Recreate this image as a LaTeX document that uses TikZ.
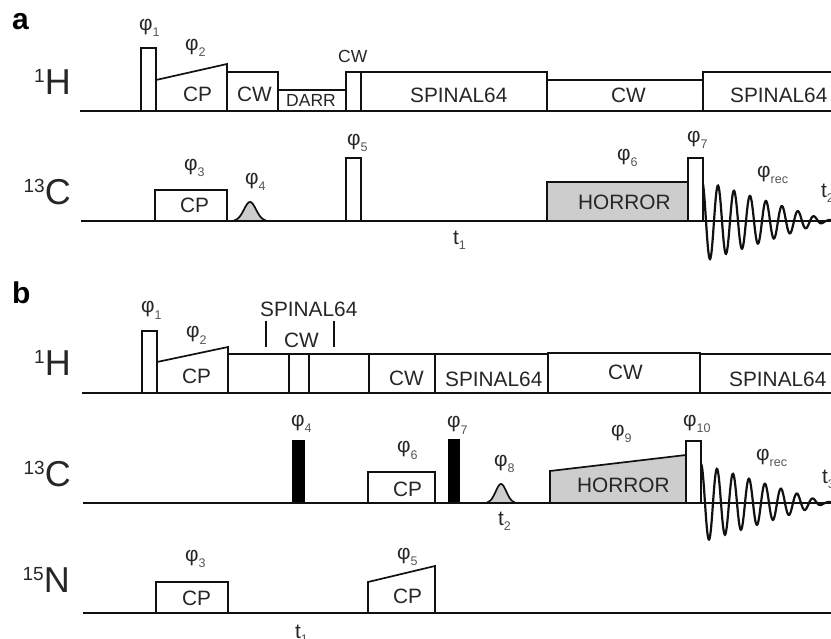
\documentclass[tikz,border=0pt]{standalone}
\usepackage{fontspec}
\setmainfont{Liberation Sans}
\usepackage{xcolor}
\usetikzlibrary{arrows.meta,positioning}
\definecolor{ink}{HTML}{111111}
\definecolor{txt}{HTML}{262626}
\definecolor{sub}{HTML}{555555}
\definecolor{shade}{HTML}{CDCDCD}
\newcommand{\fsz}[1]{\fontsize{#1}{#1}\selectfont}
\newcommand{\ph}[1]{φ\raisebox{-6pt}{\fsz{12.5}\textcolor{sub}{#1}}}
\newcommand{\tm}[1]{t\raisebox{-5pt}{\fsz{12.5}\textcolor{sub}{#1}}}
\newcommand{\nuc}[2]{\raisebox{12pt}{\fsz{19}#1}{\fsz{36}#2}}
\tikzset{
  lbl/.style={anchor=base west, inner sep=0pt, text=txt, font=\fsz{20.8}},
  small/.style={lbl, font=\fsz{17.5}},
  nucl/.style={anchor=base east, inner sep=0pt, text=txt},
  panel/.style={anchor=base west, inner sep=0pt, text=black, font=\fsz{30}\bfseries},
  rail/.style={draw=ink, line width=1.9pt},
  pulse/.style={draw=ink, line width=1.7pt, fill=white},
  grey/.style={pulse, fill=shade},
  hard/.style={draw=black, fill=black, line width=0.4pt},
  fid/.style={draw=ink, line width=2.2pt}
}
\begin{document}
\begin{tikzpicture}[x=1pt, y=-1pt]
  \useasboundingbox (0,0) rectangle (831,639);
  \clip (0,0) rectangle (831,639);
  % panel a
  \foreach \xa/\xb/\yt in {141/156/48, 227/278/72, 278/346/90, 346/361/72, 361/547/72, 547/703/80, 703/835/72}
    \draw[pulse] (\xa,111) rectangle (\xb,\yt);
  \draw[pulse] (156,111) -- (156,80) -- (227,64) -- (227,111);
  \draw[rail] (80,111) -- (831,111);
  \foreach \xa/\xb/\yt in {155/227/190, 346/361/158, 688/703/158}
    \draw[pulse] (\xa,221) rectangle (\xb,\yt);
  \draw[grey] (547,221) rectangle (688,182);
  \draw[grey] plot[domain=-16:16, samples=40] ({250+\x},{221-19*exp(-1*(\x/8.5)*(\x/8.5))});
  \draw[rail] (81,221) -- (831,221);
  \draw[fid] plot[domain=703:833, samples=260, smooth] (\x,{221-max(38-0.32*(\x-710),1)*sin(22.5*(\x-714))});
  % panel b
  \foreach \xa/\xb/\yt in {142/157/331, 228/289/354, 289/309/354, 309/369/354, 369/435/354, 435/548/354, 548/700/353, 700/835/354}
    \draw[pulse] (\xa,393) rectangle (\xb,\yt);
  \draw[pulse] (157,393) -- (157,362) -- (228,347) -- (228,393);
  \draw[rail] (82,393) -- (831,393);
  \draw[rail] (266,321) -- (266,347);
  \draw[rail] (334,321) -- (334,347);
  \draw[pulse] (368,503) rectangle (435,472);
  \draw[hard] (292,503) rectangle (304,440);
  \draw[hard] (448,503) rectangle (459,439);
  \draw[grey] plot[domain=-14:14, samples=40] ({501+\x},{503-19*exp(-1*(\x/7.5)*(\x/7.5))});
  \draw[grey] (550,503) -- (550,471) -- (686,455) -- (686,503) -- cycle;
  \draw[pulse] (686,503) rectangle (701,441);
  \draw[rail] (83,503) -- (831,503);
  \draw[fid] plot[domain=701:833, samples=260, smooth] (\x,{503-max(37-0.31*(\x-708),1)*sin(22.5*(\x-713))});
  \draw[pulse] (156,613) rectangle (228,582);
  \draw[pulse] (368,613) -- (368,582) -- (435,566) -- (435,613);
  \draw[rail] (83,613) -- (831,613);
  % labels
  \node[panel] (pa) at (12,30) {a};
  \node[panel] (pb) at (12,304) {b};
  \foreach \nm/\x/\y/\nc/\at in {ah/71/95/1/H, ac/71/205/13/C, bh/71/376/1/H, bc/71/486/13/C, bn/70/592/15/N}
    \node[nucl] (\nm) at (\x,\y) {\nuc{\nc}{\at}};
  \foreach \nm/\x/\y/\t in {%
    acp/183/102/CP, acw/237/102/CW, asa/410/103/SPINAL64, acw2/611/103/CW, asb/730/103/SPINAL64,
    acc/180/213/CP, ahr/578/210/HORROR, bcp/182/384/CP, bsp/260/317/SPINAL64, bcw/284/348/CW,
    bcw2/389/386/CW, bsa/445/387/SPINAL64, bcw3/608/380/CW, bsb/729/387/SPINAL64,
    bcc/393/496/CP, bhr/577/492/HORROR, bnc/182/605/CP, bnd/393/603/CP}
    \node[lbl] (\nm) at (\x,\y) {\t};
  \node[small] (adr) at (286,107) {DARR};
  \node[small] (acw3) at (338,63) {CW};
  \foreach \nm/\x/\y/\i in {%
    fa1/139/31/1, fa2/185/51/2, fa3/184/171/3, fa4/245/185/4, fa5/347/146/5,
    fa6/617/161/6, fa7/687/143/7, far/757/178/rec,
    fb1/141/313/1, fb2/186/338/2, fb3/185/561/3, fb4/291/426/4, fb5/397/559/5,
    fb6/397/453/6, fb7/447/428/7, fb8/494/466/8, fb9/611/436/9, fb10/683/426/10, fbr/756/460/rec}
    \node[lbl] (\nm) at (\x,\y) {\ph{\i}};
  \foreach \nm/\x/\y/\i in {ta1/453/245/1, ta2/821/198/2, tb1/295/638/1, tb2/498/525/2, tb3/822/483/3}
    \node[lbl] (\nm) at (\x,\y) {\tm{\i}};
\end{tikzpicture}
\end{document}
